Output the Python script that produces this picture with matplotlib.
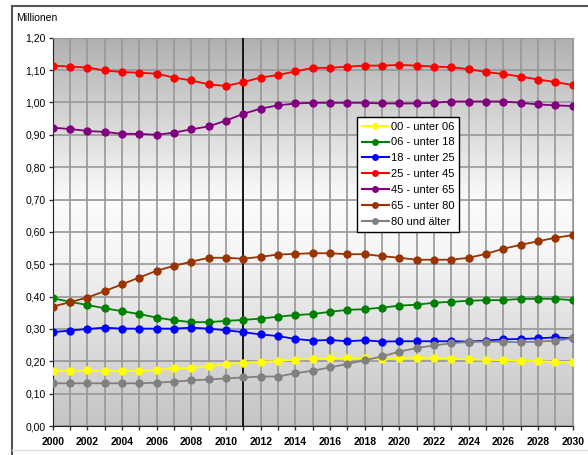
import numpy as np
import matplotlib
matplotlib.use("Agg")
import matplotlib.pyplot as plt
from matplotlib.ticker import FuncFormatter, MultipleLocator
from matplotlib.colors import LinearSegmentedColormap
from matplotlib.lines import Line2D

plt.rcParams['font.family'] = ['Liberation Sans', 'DejaVu Sans']

years = np.arange(2000, 2031)

labels = ["00 - unter 06", "06 - unter 18", "18 - unter 25", "25 - unter 45",
          "45 - unter 65", "65 - unter 80", "80 und älter"]
colors = ["#ffff00", "#008000", "#0000ff", "#ff0000", "#800080", "#993300", "#808080"]

u06 = [0.170, 0.170, 0.172, 0.170, 0.170, 0.170, 0.173, 0.178, 0.179, 0.185, 0.191,
       0.196, 0.198, 0.201, 0.205, 0.208, 0.209, 0.211, 0.209, 0.207, 0.211,
       0.211, 0.211, 0.208, 0.206, 0.204, 0.204, 0.201, 0.201, 0.198, 0.198]
u18 = [0.395, 0.384, 0.374, 0.364, 0.355, 0.346, 0.335, 0.327, 0.321, 0.321, 0.325,
       0.328, 0.332, 0.338, 0.343, 0.346, 0.353, 0.359, 0.361, 0.366, 0.372,
       0.375, 0.381, 0.384, 0.387, 0.389, 0.389, 0.393, 0.393, 0.393, 0.389]
u25 = [0.290, 0.295, 0.300, 0.304, 0.301, 0.301, 0.301, 0.301, 0.304, 0.301, 0.296,
       0.290, 0.283, 0.278, 0.269, 0.264, 0.266, 0.262, 0.265, 0.261, 0.262,
       0.262, 0.262, 0.262, 0.261, 0.264, 0.268, 0.269, 0.271, 0.274, 0.271]
u45 = [1.114, 1.111, 1.108, 1.099, 1.094, 1.092, 1.089, 1.077, 1.068, 1.056, 1.051,
       1.063, 1.077, 1.085, 1.096, 1.107, 1.107, 1.111, 1.114, 1.114, 1.116,
       1.114, 1.111, 1.109, 1.103, 1.094, 1.088, 1.080, 1.071, 1.063, 1.054]
u65 = [0.922, 0.918, 0.912, 0.909, 0.903, 0.903, 0.900, 0.907, 0.917, 0.926, 0.944,
       0.965, 0.981, 0.991, 0.997, 0.999, 0.999, 0.999, 0.999, 0.997, 0.997,
       0.997, 0.999, 1.003, 1.003, 1.003, 1.003, 0.999, 0.994, 0.991, 0.989]
u80 = [0.369, 0.383, 0.397, 0.417, 0.438, 0.459, 0.480, 0.495, 0.508, 0.520, 0.520,
       0.517, 0.523, 0.530, 0.532, 0.534, 0.534, 0.531, 0.531, 0.525, 0.520,
       0.514, 0.514, 0.514, 0.520, 0.532, 0.548, 0.560, 0.571, 0.582, 0.590]
ue80 = [0.132, 0.132, 0.132, 0.132, 0.132, 0.132, 0.134, 0.137, 0.141, 0.144, 0.147,
        0.150, 0.153, 0.153, 0.163, 0.171, 0.181, 0.192, 0.203, 0.215, 0.230,
        0.241, 0.249, 0.256, 0.260, 0.261, 0.260, 0.259, 0.261, 0.264, 0.271]

series = [u06, u18, u25, u45, u65, u80, ue80]

fig = plt.figure(figsize=(5.88, 4.55), dpi=100)
ax = fig.add_axes([0.0896, 0.0637, 0.8844, 0.8533])

# grey-white-grey vertical gradient behind the plot
bg = LinearSegmentedColormap.from_list(
    "bg", [(0.0, "#c4c4c4"), (0.45, "#f6f6f6"), (0.58, "#fbfbfb"), (1.0, "#b0b0b0")])
grad = np.linspace(0, 1, 256).reshape(-1, 1)
ax.imshow(grad, cmap=bg, origin="lower", aspect="auto",
          extent=[2000, 2030, 0, 1.2], zorder=0)

for vals, c, lab in zip(series, colors, labels):
    ax.plot(years, vals, color=c, lw=1.3, marker="o", markersize=6,
            markeredgewidth=0, label=lab, zorder=4)

ax.axvline(2011, color="black", lw=1.2, zorder=3)

ax.set_xlim(2000, 2030)
ax.set_ylim(0, 1.2)
ax.xaxis.set_major_locator(MultipleLocator(2))
ax.xaxis.set_minor_locator(MultipleLocator(1))
ax.yaxis.set_major_locator(MultipleLocator(0.1))
ax.yaxis.set_major_formatter(FuncFormatter(lambda v, p: f"{v:.2f}".replace(".", ",")))

ax.grid(which="both", axis="x", color="#979797", lw=1.2, zorder=1)
ax.grid(which="major", axis="y", color="#979797", lw=1.2, zorder=1)
ax.set_axisbelow(True)

ax.tick_params(axis="both", which="both", direction="out", length=3, width=1,
               color="#333333", labelsize=7.5, pad=2)
ax.tick_params(axis="x", pad=5)
for t in ax.get_xticklabels():
    t.set_fontweight("bold")

ax.spines["left"].set_color("#222222")
ax.spines["bottom"].set_color("#222222")
ax.spines["top"].set_color("#9a9a9a")
ax.spines["right"].set_color("#9a9a9a")

handles = [Line2D([], [], color=c, lw=1.5, marker="o", markersize=5, markeredgewidth=0)
           for c in colors]
leg = ax.legend(handles, labels, loc="upper left", bbox_to_anchor=(0.585, 0.797),
                fontsize=8, frameon=True, fancybox=False, framealpha=1,
                edgecolor="black", borderaxespad=0, handlelength=2.4,
                handletextpad=0.2, labelspacing=0.53, borderpad=0.45)
leg.get_frame().set_linewidth(1)
leg.set_zorder(5)

fig.text(16 / 588, 1 - 18 / 455, "Millionen", fontsize=7.5, va="center", ha="left")

# outer frame lines
fig.add_artist(Line2D([12 / 588, 1], [1 - 6 / 455, 1 - 6 / 455],
                      transform=fig.transFigure, color="#555555", lw=1.5))
fig.add_artist(Line2D([12 / 588, 12 / 588], [0, 1 - 6 / 455],
                      transform=fig.transFigure, color="#555555", lw=1.5))
fig.add_artist(Line2D([12 / 588, 1], [5 / 455, 5 / 455],
                      transform=fig.transFigure, color="#dddddd", lw=1))

fig.savefig("out.png", dpi=100)
